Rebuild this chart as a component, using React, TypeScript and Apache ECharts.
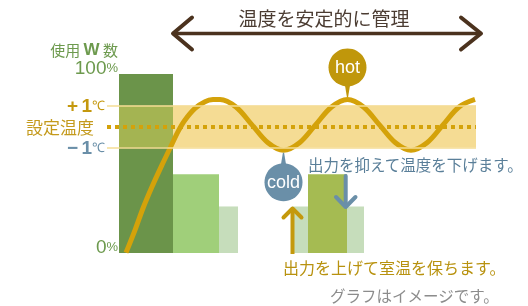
import React, { useEffect, useRef } from "react";
import * as echarts from "echarts";

// ---- data (x in time units, y in % of wattage) ----
const barStarts = [0, 54, 100, 173, 189];
const barEnds = [54, 100, 119, 245, 228];
const barValues = [100, 44, 26, 26, 44];

const bandLow = 59.0; // -1℃
const bandHigh = 82.3; // +1℃
const setPoint = 70.6; // 設定温度

const curveX = [7, 16, 24, 33, 43, 51, 59, 66, 76, 86, 94, 101, 117, 133, 149, 164.5, 180.5, 196.5, 212.5, 228.5, 244.5, 260.5, 276.5, 292, 308, 324, 340, 356];
const curveY = [0.2, 12.8, 25, 37, 49.2, 58.5, 67.8, 74.3, 80.8, 84.5, 85.7, 85.8, 81.6, 71.6, 61.6, 57.4, 61.6, 71.6, 81.6, 85.8, 81.6, 71.6, 61.6, 57.4, 61.6, 71.6, 81.6, 85.8];

const bubbleLabels = ["hot", "cold"];
const bubbleX = [228.5, 164.5];
const bubbleY = [85.8, 57.4];
const bubbleDir = [-1, 1];

const yTicks = [0, 100];
const xMin = -12;
const xMax = 357;

// ---- styles ----
const barColors = ["#6b944a", "#a0cf7a", "#c6ddbb", "#c6ddbb", "#a5bb52"];
const olive = "#a4b452";
const bandColor = "#f5dc94";
const gold = "#d4a20a";
const goldText = "#c4980e";
const blue = "#6a8fa8";
const green = "#6d9a4e";
const JP = '"Noto Sans CJK JP", sans-serif';
const LAT = '"Liberation Sans", Arial, sans-serif';

export default function App() {
  const ref = useRef<HTMLDivElement>(null);
  useEffect(() => {
    if (!ref.current) return;
    const chart = echarts.init(ref.current, null, { renderer: "svg" });

    const barData = barStarts.map((s, i) => [s, barEnds[i], barValues[i], i]);
    const curveData = curveX.map((x, i) => [x, curveY[i]]);
    const bubbleData = bubbleX.map((x, i) => [x, bubbleY[i], bubbleDir[i], i]);

    const signRich = (color: string) => ({
      s: { fontSize: 19, fontWeight: "bold", fontFamily: LAT, color, lineHeight: 15 },
      o: { fontSize: 19, fontWeight: "bold", fontFamily: LAT, color, lineHeight: 15 },
      c: { fontSize: 13, fontFamily: LAT, color, lineHeight: 15 },
    });

    const option: any = {
      animation: false,
      grid: { left: 107, right: 52, top: 74, bottom: 53 },
      xAxis: { type: "value", min: xMin, max: xMax, show: false },
      yAxis: {
        type: "value",
        min: yTicks[0],
        max: yTicks[1],
        interval: 100,
        offset: -12,
        axisLine: { show: false },
        axisTick: { show: false },
        splitLine: { show: false },
        name: "使用 {w|W} 数",
        nameLocation: "end",
        nameGap: 25,
        nameTextStyle: {
          color: green,
          fontSize: 15,
          fontFamily: JP,
          align: "right",
          verticalAlign: "middle",
          padding: [0, 1, 0, 0],
          rich: { w: { fontSize: 17, fontWeight: "bold", fontFamily: LAT, color: green } },
        },
        axisLabel: {
          margin: 1,
          verticalAlign: "bottom",
          formatter: (v: number) => `{n|${v}}{p|%}`,
          rich: {
            n: { fontSize: 19, fontFamily: LAT, color: green, lineHeight: 14 },
            p: { fontSize: 13, fontFamily: LAT, color: green, lineHeight: 14 },
          },
        },
      },
      series: [
        {
          type: "custom",
          z: 1,
          silent: true,
          data: [[0, xMax, bandLow, bandHigh]],
          renderItem: (params: any, api: any) => {
            const a = api.coord([api.value(0), api.value(3)]);
            const b = api.coord([api.value(1), api.value(2)]);
            return {
              type: "rect",
              shape: { x: a[0], y: a[1], width: b[0] - a[0], height: b[1] - a[1] },
              style: { fill: bandColor },
            };
          },
        },
        {
          type: "custom",
          z: 2,
          silent: true,
          data: barData,
          renderItem: (params: any, api: any) => {
            const x0 = api.value(0);
            const x1 = api.value(1);
            const v = api.value(2);
            const idx = api.value(3);
            const p0 = api.coord([x0, v]);
            const p1 = api.coord([x1, 0]);
            const children: any[] = [
              {
                type: "rect",
                shape: { x: p0[0], y: p0[1], width: p1[0] - p0[0], height: p1[1] - p0[1] },
                style: { fill: barColors[idx] },
              },
            ];
            if (v > bandLow) {
              const top = Math.min(v, bandHigh);
              const a = api.coord([x0, top]);
              const b = api.coord([x1, bandLow]);
              children.push({
                type: "rect",
                shape: { x: a[0], y: a[1], width: b[0] - a[0], height: b[1] - a[1] },
                style: { fill: olive },
              });
            }
            return { type: "group", children };
          },
        },
        {
          type: "line",
          z: 3,
          data: [],
          markLine: {
            silent: true,
            symbol: ["none", "none"],
            animation: false,
            label: { position: "start" },
            data: [
              [
                {
                  coord: [xMin, bandHigh],
                  lineStyle: { color: bandColor, width: 1.5, type: "solid" },
                  label: {
                    position: "start",
                    distance: 2,
                    formatter: "{s|+} {o|1}{c|℃}",
                    lineHeight: 15,
                    rich: signRich(goldText),
                  },
                },
                { coord: [xMax, bandHigh] },
              ],
              [
                {
                  coord: [xMin, bandLow],
                  lineStyle: { color: bandColor, width: 1.5, type: "solid" },
                  label: {
                    position: "start",
                    distance: 2,
                    formatter: "{s|−} {o|1}{c|℃}",
                    lineHeight: 15,
                    rich: signRich(blue),
                  },
                },
                { coord: [xMax, bandLow] },
              ],
              [
                {
                  coord: [xMin, setPoint],
                  lineStyle: { color: gold, width: 4, type: [4, 4] },
                  label: {
                    position: "start",
                    distance: 13,
                    formatter: "設定温度",
                    fontSize: 17,
                    lineHeight: 17,
                    fontFamily: JP,
                    color: "#c49a1c",
                  },
                },
                { coord: [xMax, setPoint] },
              ],
            ],
          },
        },
        {
          type: "line",
          z: 4,
          data: curveData,
          smooth: 0.35,
          showSymbol: false,
          silent: true,
          lineStyle: { width: 5, color: gold },
        },
        {
          type: "custom",
          z: 5,
          silent: true,
          data: bubbleData,
          renderItem: (params: any, api: any) => {
            const p = api.coord([api.value(0), api.value(1)]);
            const dir = api.value(2);
            const idx = api.value(3);
            const r = 19;
            const cx = p[0];
            const cy = p[1] + dir * 32;
            const edge = cy - dir * (r - 1);
            const tip = p[1] + dir * 2.5;
            const fill = idx === 0 ? "#c0970b" : blue;
            return {
              type: "group",
              children: [
                {
                  type: "polygon",
                  shape: { points: [[cx - 2.5, edge], [cx + 2.5, edge], [cx + 0.6, tip], [cx - 0.6, tip]] },
                  style: { fill },
                },
                { type: "circle", shape: { cx, cy, r }, style: { fill } },
                {
                  type: "text",
                  style: {
                    text: bubbleLabels[idx],
                    x: cx,
                    y: cy,
                    align: "center",
                    verticalAlign: "middle",
                    fill: "#ffffff",
                    fontSize: 18,
                    fontFamily: LAT,
                  },
                },
              ],
            };
          },
        },
      ],
      graphic: [
        // top double arrow
        {
          type: "polyline",
          silent: true,
          z: 100,
          shape: { points: [[173, 33.5], [481, 33.5]] },
          style: { stroke: "#4b321e", lineWidth: 3.5, fill: null },
        },
        {
          type: "polyline",
          silent: true,
          z: 100,
          shape: { points: [[192, 17.5], [173, 33.5], [192, 49.5]] },
          style: { stroke: "#4b321e", lineWidth: 4, fill: null, lineCap: "round", lineJoin: "round" },
        },
        {
          type: "polyline",
          silent: true,
          z: 100,
          shape: { points: [[461, 17.5], [481, 33.5], [461, 49.5]] },
          style: { stroke: "#4b321e", lineWidth: 4, fill: null, lineCap: "round", lineJoin: "round" },
        },
        {
          type: "text",
          silent: true,
          z: 100,
          x: 324,
          y: 17,
          style: {
            text: "温度を安定的に管理",
            align: "center",
            verticalAlign: "middle",
            fontSize: 19,
            fontFamily: JP,
            fill: "#4b3c32",
          },
        },
        // up arrow (gold)
        {
          type: "polyline",
          silent: true,
          z: 100,
          shape: { points: [[292.5, 254], [292.5, 209]] },
          style: { stroke: "#c4990c", lineWidth: 4, fill: null },
        },
        {
          type: "polyline",
          silent: true,
          z: 100,
          shape: { points: [[283.5, 217.5], [292.5, 208.5], [301.5, 217.5]] },
          style: { stroke: "#c4990c", lineWidth: 4, fill: null, lineCap: "round", lineJoin: "round" },
        },
        // down arrow (blue)
        {
          type: "polyline",
          silent: true,
          z: 100,
          shape: { points: [[345.7, 176], [345.7, 206]] },
          style: { stroke: blue, lineWidth: 4, fill: null, lineCap: "round" },
        },
        {
          type: "polyline",
          silent: true,
          z: 100,
          shape: { points: [[336, 197], [345.7, 207], [355.5, 197]] },
          style: { stroke: blue, lineWidth: 4, fill: null, lineCap: "round", lineJoin: "round" },
        },
        {
          type: "text",
          silent: true,
          z: 100,
          x: 308,
          y: 164,
          style: {
            text: "出力を抑えて温度を下げます。",
            align: "left",
            verticalAlign: "middle",
            fontSize: 15.5,
            fontFamily: JP,
            fill: "#5a7f99",
          },
        },
        {
          type: "text",
          silent: true,
          z: 100,
          x: 283,
          y: 267,
          style: {
            text: "出力を上げて室温を保ちます。",
            align: "left",
            verticalAlign: "middle",
            fontSize: 16,
            fontFamily: JP,
            fill: "#b8920f",
          },
        },
        {
          type: "text",
          silent: true,
          z: 100,
          x: 330,
          y: 295,
          style: {
            text: "グラフはイメージです。",
            align: "left",
            verticalAlign: "middle",
            fontSize: 15.5,
            fontFamily: JP,
            fill: "#8c8c8c",
          },
        },
      ],
    };

    chart.setOption(option);
    return () => chart.dispose();
  }, []);

  return <div ref={ref} style={{ position: "fixed", left: 0, top: 0, width: 528, height: 306 }} />;
}
